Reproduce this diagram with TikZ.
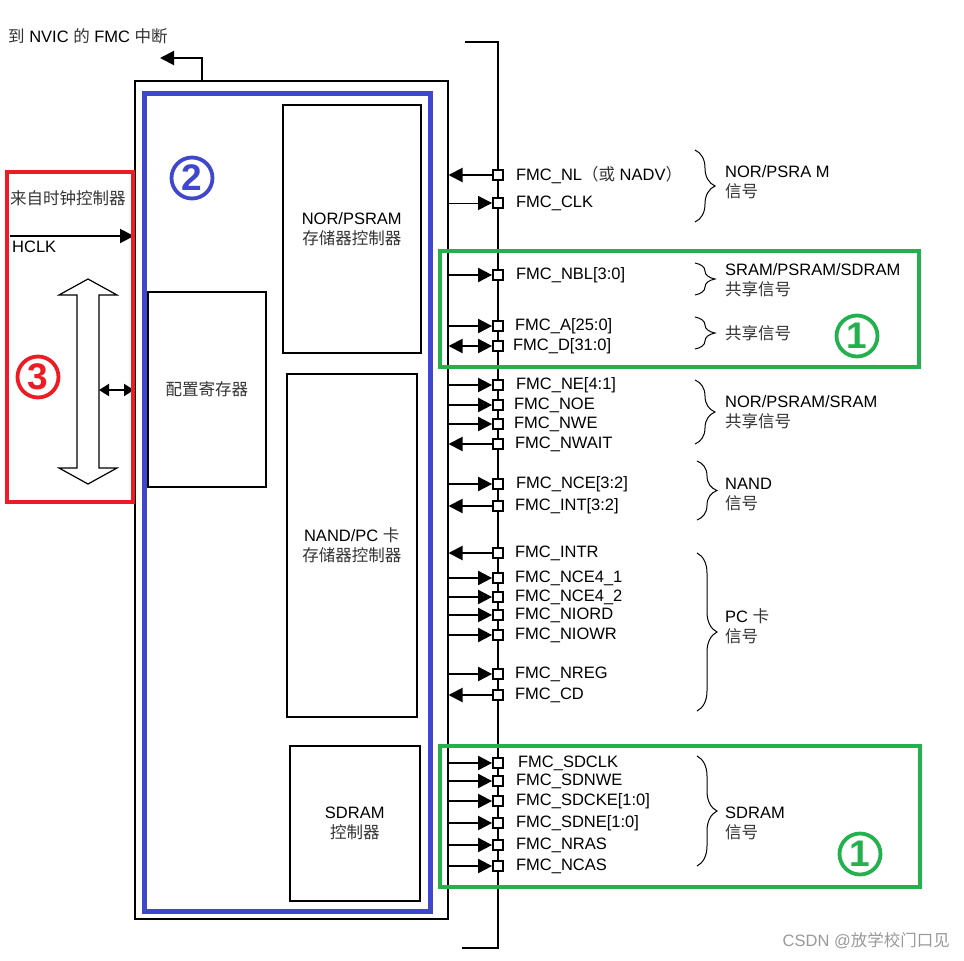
\documentclass[tikz,border=0pt]{standalone}
\usepackage{fontspec}
\setmainfont{Liberation Sans}
\newfontfamily\cjk{Noto Sans CJK SC}
\usetikzlibrary{positioning,arrows.meta,decorations.pathreplacing}
\definecolor{markblue}{HTML}{3F48CC}
\definecolor{markgreen}{HTML}{22B14C}
\definecolor{markred}{HTML}{ED1C24}
\newcommand{\zhtxt}[1]{{\cjk\color{black!80}#1}}

\begin{document}
\begin{tikzpicture}[x=1pt,y=-1pt,>={Triangle[length=14pt,width=14pt]},
    font=\fontsize{16.5}{20}\selectfont,
    block/.style={draw,line width=1.5pt,inner sep=0pt,anchor=north west,align=center},
    pin/.style={draw,fill=white,line width=1.8pt,minimum size=10pt,inner sep=0pt},
    sig/.style={inner sep=0pt},
    wire/.style={line width=2pt},
    grp/.style={anchor=west,align=left,inner sep=0pt},
    brc/.style={decorate,decoration={brace,amplitude=20pt},line width=1pt},
    mark node/.style={circle,draw=#1,text=#1,line width=3.8pt,minimum size=41pt,inner sep=0pt,font=\fontsize{37}{37}\bfseries\selectfont}]

    \useasboundingbox (0,0) rectangle (964,961);

    % FMC blocks
    \node[block,minimum width=313pt,minimum height=838pt] (fmc) at (134,80) {};
    \node[block,draw=markblue,line width=5pt,minimum width=286pt,minimum height=818pt] (core) at (142,91) {};
    \node[block,minimum width=138pt,minimum height=248pt] (nor) at (282,104) {NOR/PSRAM\\\zhtxt{存储器控制器}};
    \node[block,minimum width=118pt,minimum height=195pt] (cfg) at (147,291) {\zhtxt{配置寄存器}};
    \node[block,minimum width=130pt,minimum height=343pt] (nand) at (286,373) {NAND/PC \zhtxt{卡}\\\zhtxt{存储器控制器}};
    \node[block,minimum width=130pt,minimum height=155pt] (sdram) at (289,745) {SDRAM\\\zhtxt{控制器}};

    % interrupt out
    \node[anchor=west,inner sep=0pt] (nvic) at (8,36) {\zhtxt{到} NVIC \zhtxt{的} FMC \zhtxt{中断}};
    \coordinate (irq) at (202,80);
    \coordinate (irqout) at (160,58);
    \draw[wire,->] (irq) |- (irqout);

    % clock and AHB bus
    \node[anchor=west,inner sep=0pt] (rcc) at (10,198) {\zhtxt{来自时钟控制器}};
    \coordinate (hclkin) at (10,236);
    \draw[wire,->] (hclkin) -- (hclkin -| fmc.west);
    \node[anchor=north west,inner sep=0pt] (hclk) at (12,241) {HCLK};
    \draw[line width=1.2pt,fill=white] (88,279) -- (117,295) -- (99,295) -- (99,468) -- (117,468) -- (88,484)
        -- (59,468) -- (77,468) -- (77,295) -- (59,295) -- cycle;
    \coordinate (ahb) at (99,390);
    \draw[wire,<->,>={Triangle[length=10pt,width=12pt]}] (ahb) -- (ahb -| fmc.west);

    % external bus
    \coordinate (bustop) at (465,42);
    \coordinate (busbot) at (462,948);
    \draw[wire] (bustop) -- (498,42) -- (498,948) -- (busbot);

    \node[pin] (nl) at (498,175) {};
    \node[pin] (clk) at (498,203) {};
    \node[pin] (nbl) at (498,275) {};
    \node[pin] (addr) at (498,326) {};
    \node[pin] (data) at (498,346) {};
    \node[pin] (ne) at (498,385) {};
    \node[pin] (noe) at (498,405) {};
    \node[pin] (nwe) at (498,424) {};
    \node[pin] (nwait) at (498,444) {};
    \node[pin] (nce) at (498,484) {};
    \node[pin] (int) at (498,506) {};
    \node[pin] (intr) at (498,553) {};
    \node[pin] (ncea) at (498,578) {};
    \node[pin] (nceb) at (498,597) {};
    \node[pin] (niord) at (498,615) {};
    \node[pin] (niowr) at (498,635) {};
    \node[pin] (nreg) at (498,674) {};
    \node[pin] (cd) at (498,695) {};
    \node[pin] (sdclk) at (498,763) {};
    \node[pin] (sdnwe) at (498,781) {};
    \node[pin] (sdcke) at (498,801) {};
    \node[pin] (sdne) at (498,823) {};
    \node[pin] (nras) at (498,845) {};
    \node[pin] (ncas) at (498,866) {};

    \node[sig] (nlt) [right=12pt of nl] {FMC\_NL\zhtxt{（或} NADV\zhtxt{）}};
    \node[sig] (clkt) [right=12pt of clk] {FMC\_CLK};
    \node[sig] (nblt) [right=12pt of nbl] {FMC\_NBL[3:0]};
    \node[sig] (addrt) [right=11pt of addr] {FMC\_A[25:0]};
    \node[sig] (datat) [right=9pt of data] {FMC\_D[31:0]};
    \node[sig] (net) [right=12pt of ne] {FMC\_NE[4:1]};
    \node[sig] (noet) [right=10pt of noe] {FMC\_NOE};
    \node[sig] (nwet) [right=10pt of nwe] {FMC\_NWE};
    \node[sig] (nwaitt) [right=11pt of nwait] {FMC\_NWAIT};
    \node[sig] (ncet) [right=12pt of nce] {FMC\_NCE[3:2]};
    \node[sig] (intt) [right=11pt of int] {FMC\_INT[3:2]};
    \node[sig] (intrt) [right=11pt of intr] {FMC\_INTR};
    \node[sig] (ceat) [right=11pt of ncea] {FMC\_NCE4\_1};
    \node[sig] (cebt) [right=11pt of nceb] {FMC\_NCE4\_2};
    \node[sig] (niordt) [right=11pt of niord] {FMC\_NIORD};
    \node[sig] (niowrt) [right=11pt of niowr] {FMC\_NIOWR};
    \node[sig] (nregt) [right=11pt of nreg] {FMC\_NREG};
    \node[sig] (cdt) [right=11pt of cd] {FMC\_CD};
    \node[sig] (sdclkt) [right=14pt of sdclk] {FMC\_SDCLK};
    \node[sig] (sdnwet) [right=12pt of sdnwe] {FMC\_SDNWE};
    \node[sig] (sdcket) [right=12pt of sdcke] {FMC\_SDCKE[1:0]};
    \node[sig] (sdnet) [right=12pt of sdne] {FMC\_SDNE[1:0]};
    \node[sig] (nrast) [right=12pt of nras] {FMC\_NRAS};
    \node[sig] (ncast) [right=12pt of ncas] {FMC\_NCAS};

    \path[wire]
        (nl.west) edge[->] (nl.west -| fmc.east)
        (clk.west -| fmc.east) edge[->,line width=1pt] (clk.west)
        (nbl.west -| fmc.east) edge[->] (nbl.west)
        (addr.west -| fmc.east) edge[->] (addr.west)
        (data.west -| fmc.east) edge[<->] (data.west)
        (ne.west -| fmc.east) edge[->] (ne.west)
        (noe.west -| fmc.east) edge[->] (noe.west)
        (nwe.west -| fmc.east) edge[->] (nwe.west)
        (nwait.west) edge[->] (nwait.west -| fmc.east)
        (nce.west -| fmc.east) edge[->] (nce.west)
        (int.west) edge[->] (int.west -| fmc.east)
        (intr.west) edge[->] (intr.west -| fmc.east)
        (ncea.west -| fmc.east) edge[->] (ncea.west)
        (nceb.west -| fmc.east) edge[->] (nceb.west)
        (niord.west -| fmc.east) edge[->] (niord.west)
        (niowr.west -| fmc.east) edge[->] (niowr.west)
        (nreg.west -| fmc.east) edge[->] (nreg.west)
        (cd.west) edge[->] (cd.west -| fmc.east)
        (sdclk.west -| fmc.east) edge[->] (sdclk.west)
        (sdnwe.west -| fmc.east) edge[->] (sdnwe.west)
        (sdcke.west -| fmc.east) edge[->] (sdcke.west)
        (sdne.west -| fmc.east) edge[->] (sdne.west)
        (nras.west -| fmc.east) edge[->] (nras.west)
        (ncas.west -| fmc.east) edge[->] (ncas.west)
        ;

    % signal groups
    \draw[brc] (695,150) -- (695,222);
    \node[grp] (g1) at (725,182) {NOR/PSRA M\\\zhtxt{信号}};
    \draw[brc] (695,263) -- (695,295);
    \node[grp] (g2) at (725,280) {SRAM/PSRAM/SDRAM\\\zhtxt{共享信号}};
    \draw[brc] (695,317) -- (695,349);
    \node[grp] (g3) at (725,333) {\zhtxt{共享信号}};
    \draw[brc] (695,380) -- (695,444);
    \node[grp] (g4) at (725,412) {NOR/PSRAM/SRAM\\\zhtxt{共享信号}};
    \draw[brc] (697,461) -- (697,520);
    \node[grp] (g5) at (725,495) {NAND\\\zhtxt{信号}};
    \draw[brc] (697,553) -- (697,711);
    \node[grp] (g6) at (725,626) {PC \zhtxt{卡}\\\zhtxt{信号}};
    \draw[brc] (697,756) -- (697,866);
    \node[grp] (g7) at (725,823) {SDRAM\\\zhtxt{信号}};

    % marks
    \draw[markgreen,line width=4pt] (440,251) rectangle (919,367);
    \draw[markgreen,line width=4pt] (440,746) rectangle (920,887);
    \draw[markred,line width=4pt] (7,172) rectangle (133,502);
    \node[mark node=markblue] (m2) at (192,178) {2};
    \node[mark node=markgreen] (m1a) at (857,336) {1};
    \node[mark node=markgreen] (m1b) at (860,854) {1};
    \node[mark node=markred] (m3) at (38,377) {3};

    \node[anchor=east,inner sep=0pt,text=black!40] (wm) at (950,941) {CSDN @{\cjk 放学校门口见}};
\end{tikzpicture}
\end{document}
